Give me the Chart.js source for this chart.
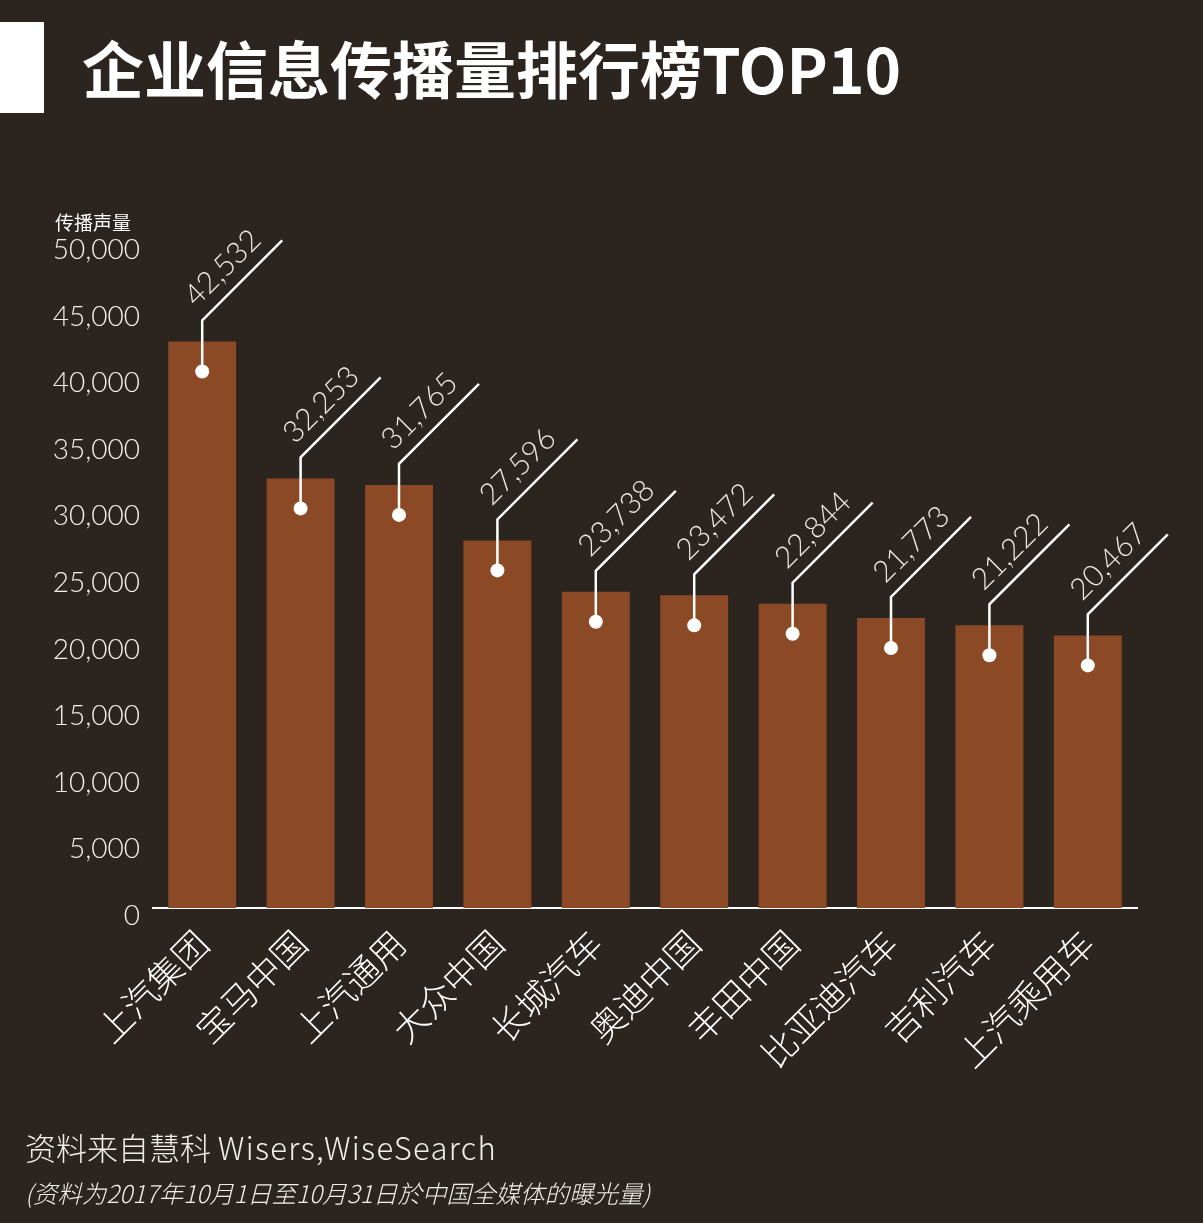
<!DOCTYPE html>
<html lang="zh">
  <head>
    <meta charset="UTF-8" />
    <title>企业信息传播量排行榜TOP10</title>
    <style>
      * {
        box-sizing: border-box;
        margin: 0;
        padding: 0;
      }
      body {
        width: 1203px;
        height: 1223px;
        background: #2b241f;
        position: relative;
        overflow: hidden;
        font-family: "Noto Sans CJK SC", "Noto Sans", sans-serif;
        color: #fff;
      }
      #chart {
        position: absolute;
        left: 0;
        top: 0;
      }
      .block {
        position: absolute;
        left: 0;
        top: 22px;
        width: 44px;
        height: 91px;
        background: #fff;
      }
      h1 {
        position: absolute;
        left: 82px;
        top: 22px;
        font-size: 62px;
        line-height: 90px;
        font-weight: 700;
        white-space: nowrap;
      }
      .unit {
        position: absolute;
        left: 55px;
        top: 208px;
        font-size: 19px;
        line-height: 28px;
      }
      .source {
        position: absolute;
        left: 25px;
        top: 1124px;
        font-size: 31px;
        line-height: 46px;
        font-weight: 300;
        color: #f2eee8;
        white-space: nowrap;
      }
      .source span {
        letter-spacing: 1.3px;
      }
      .note {
        position: absolute;
        left: 25px;
        top: 1176px;
        font-size: 24.5px;
        line-height: 34px;
        font-style: italic;
        font-weight: 300;
        color: #f2eee8;
        white-space: nowrap;
      }
    </style>
  </head>
  <body>
    <canvas id="chart" width="1203" height="1223"></canvas>
    <div class="block"></div>
    <h1>企业信息传播量排行榜TOP10</h1>
    <div class="unit">传播声量</div>
    <div class="source">资料来自慧科 <span>Wisers,WiseSearch</span></div>
    <div class="note">(资料为2017年10月1日至10月31日於中国全媒体的曝光量)</div>

    <script src="https://cdn.jsdelivr.net/npm/chart.js"></script>
    <script>
      const companies = [
        "上汽集团",
        "宝马中国",
        "上汽通用",
        "大众中国",
        "长城汽车",
        "奥迪中国",
        "丰田中国",
        "比亚迪汽车",
        "吉利汽车",
        "上汽乘用车",
      ];
      const volumes = [
        42532, 32253, 31765, 27596, 23738, 23472, 22844, 21773, 21222, 20467,
      ];
      const yTicks = [
        0, 5000, 10000, 15000, 20000, 25000, 30000, 35000, 40000, 45000, 50000,
      ];

      const numFont = "Lato, 'Open Sans', 'Noto Sans', sans-serif";
      const fmt = (v) => v.toLocaleString("en-US");

      // dot inside each bar, stem up and a 45 degree leader with the value
      const leaders = {
        id: "leaders",
        afterDatasetsDraw(chart) {
          const ctx = chart.ctx;
          const bars = chart.getDatasetMeta(0).data;
          ctx.save();
          bars.forEach((bar, i) => {
            const x = bar.x;
            const dotY = bar.y + 30;
            const stemTop = bar.y - 21;
            const d = 80;
            ctx.strokeStyle = "#ffffff";
            ctx.lineWidth = 2.5;
            ctx.beginPath();
            ctx.moveTo(x, dotY);
            ctx.lineTo(x, stemTop);
            ctx.lineTo(x + d, stemTop - d);
            ctx.stroke();
            ctx.fillStyle = "#ffffff";
            ctx.beginPath();
            ctx.arc(x, dotY, 7, 0, Math.PI * 2);
            ctx.fill();

            ctx.save();
            ctx.translate(x, stemTop);
            ctx.rotate(-Math.PI / 4);
            ctx.translate(5, -13);
            ctx.font = "300 30px " + numFont;
            ctx.fillStyle = "#ece8e0";
            ctx.textAlign = "left";
            ctx.textBaseline = "alphabetic";
            ctx.fillText(fmt(volumes[i]), 0, 0);
            ctx.restore();
          });
          ctx.restore();
        },
      };

      new Chart(document.getElementById("chart"), {
        type: "bar",
        data: {
          labels: companies,
          datasets: [
            {
              data: volumes,
              backgroundColor: "#8b4a25",
              barPercentage: 0.69,
              categoryPercentage: 1,
            },
          ],
        },
        options: {
          responsive: false,
          animation: false,
          layout: {
            padding: { left: 0, top: 242, right: 66, bottom: 115 },
          },
          plugins: {
            legend: { display: false },
            tooltip: { enabled: false },
          },
          scales: {
            x: {
              grid: { display: false, drawTicks: false },
              border: { display: true, color: "#ffffff", width: 2 },
              afterFit(scale) {
                scale.height = 200;
              },
              ticks: {
                color: "#ffffff",
                minRotation: 45,
                maxRotation: 45,
                padding: 14,
                font: {
                  family: "'Noto Sans CJK SC', sans-serif",
                  size: 35,
                  weight: 300,
                },
              },
            },
            y: {
              min: 0,
              max: 50000,
              grid: { display: false, drawTicks: false },
              border: { display: false },
              afterFit(scale) {
                scale.width = 153;
              },
              afterBuildTicks(scale) {
                scale.ticks = yTicks.map((v) => ({ value: v }));
              },
              ticks: {
                color: "#f2eee8",
                padding: 13,
                labelOffset: 8,
                callback: (v) => fmt(v),
                font: { family: numFont, size: 28, weight: 300 },
              },
            },
          },
        },
        plugins: [leaders],
      });
    </script>
  </body>
</html>
